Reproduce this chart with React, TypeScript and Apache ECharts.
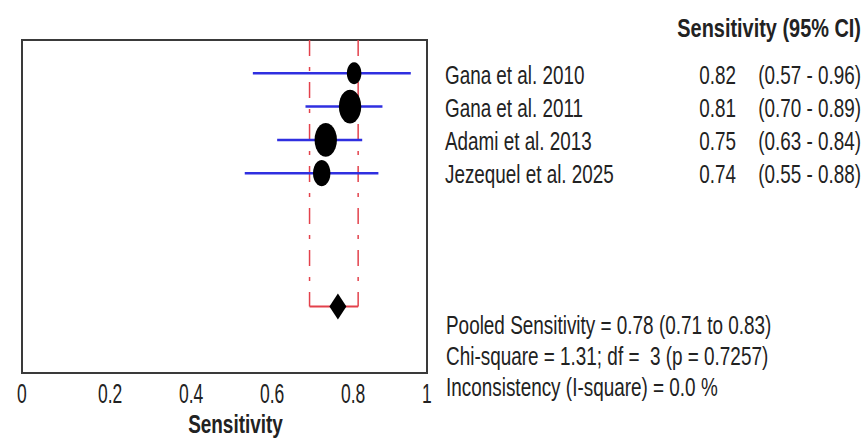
import React, { useEffect, useRef } from "react";
import * as echarts from "echarts";

// ---- data ----
const studies = ["Gana et al. 2010", "Gana et al. 2011", "Adami et al. 2013", "Jezequel et al. 2025"];
const sens = [0.82, 0.81, 0.75, 0.74];
const ciLow = [0.57, 0.70, 0.63, 0.55];
const ciHigh = [0.96, 0.89, 0.84, 0.88];
const weights = [14, 33, 33, 20];
const pooledEst = 0.78;
const pooledLow = 0.71;
const pooledHigh = 0.83;
const chiSquare = 1.31;
const df = 3;
const pValue = 0.7257;
const iSquare = 0.0;
const xTicks = [0, 0.2, 0.4, 0.6, 0.8, 1];
const xTickLabels = ["0", "0.2", "0.4", "0.6", "0.8", "1"];

const FONT = "'Liberation Sans', Arial, sans-serif";
const TXT = "#222";
const POOLED_ROW = 7;
const RED = "#e3414b";
const BLUE = "#2f2fe0";

export default function App() {
  const ref = useRef<HTMLDivElement>(null);
  useEffect(() => {
    if (!ref.current) return;
    const chart = echarts.init(ref.current, undefined, { renderer: "svg" });
    const f2 = (v: number) => v.toFixed(2);

    const option: any = {
      animation: false,
      textStyle: { fontFamily: FONT },
      grid: {
        left: 22,
        right: 439,
        top: 40,
        bottom: 70,
        show: true,
        borderColor: "#3a3a3a",
        borderWidth: 2,
        backgroundColor: "#fff",
      },
      xAxis: {
        type: "value",
        min: 0,
        max: 1,
        interval: 0.2,
        axisLine: { show: false },
        axisTick: { show: false },
        splitLine: { show: false },
        axisLabel: { show: false },
      },
      yAxis: {
        type: "value",
        min: -1,
        max: 9,
        interval: 1,
        inverse: true,
        axisLine: { show: false },
        axisTick: { show: false },
        splitLine: { show: false },
        axisLabel: { show: false },
      },
      series: [
        {
          type: "line",
          data: [[pooledLow, -1], [pooledLow, POOLED_ROW]],
          symbol: "none",
          lineStyle: { color: RED, width: 1.5, type: [16, 11, 4, 11] },
          z: 1,
        },
        {
          type: "line",
          data: [[pooledHigh, -1], [pooledHigh, POOLED_ROW]],
          symbol: "none",
          lineStyle: { color: RED, width: 1.5, type: [16, 11, 4, 11] },
          z: 1,
        },
        {
          type: "line",
          data: [[pooledLow, POOLED_ROW], [pooledHigh, POOLED_ROW]],
          symbol: "none",
          lineStyle: { color: RED, width: 2 },
          z: 1,
        },
        {
          type: "custom",
          data: studies.map((_, i) => [ciLow[i], ciHigh[i], i]),
          renderItem: (params: any, api: any) => {
            const a = api.coord([api.value(0), api.value(2)]);
            const b = api.coord([api.value(1), api.value(2)]);
            return {
              type: "line",
              shape: { x1: a[0], y1: a[1], x2: b[0], y2: b[1] },
              style: { stroke: BLUE, lineWidth: 2.5 },
            };
          },
          z: 2,
        },
        {
          type: "scatter",
          data: studies.map((_, i) => {
            const w = Math.sqrt(weights[i]) * 3.9;
            return { value: [sens[i], i], symbolSize: [w, w * 1.5] };
          }),
          symbol: "circle",
          itemStyle: { color: "#000", opacity: 1 },
          z: 3,
        },
        {
          type: "scatter",
          data: [[pooledEst, POOLED_ROW]],
          symbol: "diamond",
          symbolSize: [17, 26],
          itemStyle: { color: "#000", opacity: 1 },
          z: 3,
        },
      ],
    };
    chart.setOption(option);

    const px = (x: number, y: number) => chart.convertToPixel({ gridIndex: 0 }, [x, y]) as number[];
    const graphics: any[] = [];
    const txt = (
      text: string,
      x: number,
      y: number,
      size: number,
      sx: number,
      align: string,
      bold = false,
      sy = 1.16
    ) => ({
      type: "text",
      x,
      y,
      scaleX: sx,
      scaleY: sy,
      style: {
        text,
        font: `${bold ? "bold " : ""}${size}px ${FONT}`,
        fill: TXT,
        textAlign: align,
        textVerticalAlign: "middle",
      },
    });

    // x tick labels
    xTicks.forEach((t, i) => {
      const p = px(t, 9);
      graphics.push(txt(xTickLabels[i], p[0] - 5, p[1] + 20, 25, 0.7, "left", false, 1.14));
    });
    // x axis title
    const mid = px(0.5, 9);
    graphics.push(txt("Sensitivity", mid[0] + 11, mid[1] + 51, 24, 0.79, "center", true, 1.08));

    // header
    graphics.push(txt("Sensitivity (95% CI)", 861, 28, 24, 0.83, "right", true, 1.08));

    // study rows
    const right = px(1, 0)[0];
    studies.forEach((s, i) => {
      const y = px(0, i)[1] + 1;
      graphics.push(txt(s, right + 18, y, 23, 0.82, "left"));
      graphics.push(txt(f2(sens[i]), right + 309, y, 23, 0.82, "right"));
      graphics.push(txt(`(${f2(ciLow[i])} - ${f2(ciHigh[i])})`, right + 434, y, 23, 0.82, "right"));
    });

    // footer statistics
    const footer = [
      `Pooled Sensitivity = ${f2(pooledEst)} (${f2(pooledLow)} to ${f2(pooledHigh)})`,
      `Chi-square = ${f2(chiSquare)}; df =  ${df} (p = ${pValue.toFixed(4)})`,
      `Inconsistency (I-square) = ${iSquare.toFixed(1)} %`,
    ];
    const pooledY = px(0, POOLED_ROW)[1];
    footer.forEach((line, k) => {
      graphics.push(txt(line, right + 19, pooledY + 19 + k * 31, 22, 0.86, "left"));
    });

    chart.setOption({ graphic: graphics });
    return () => chart.dispose();
  }, []);
  return (
    <div
      ref={ref}
      style={{ position: "fixed", left: 0, top: 0, width: 866, height: 443, background: "#fff" }}
    />
  );
}
